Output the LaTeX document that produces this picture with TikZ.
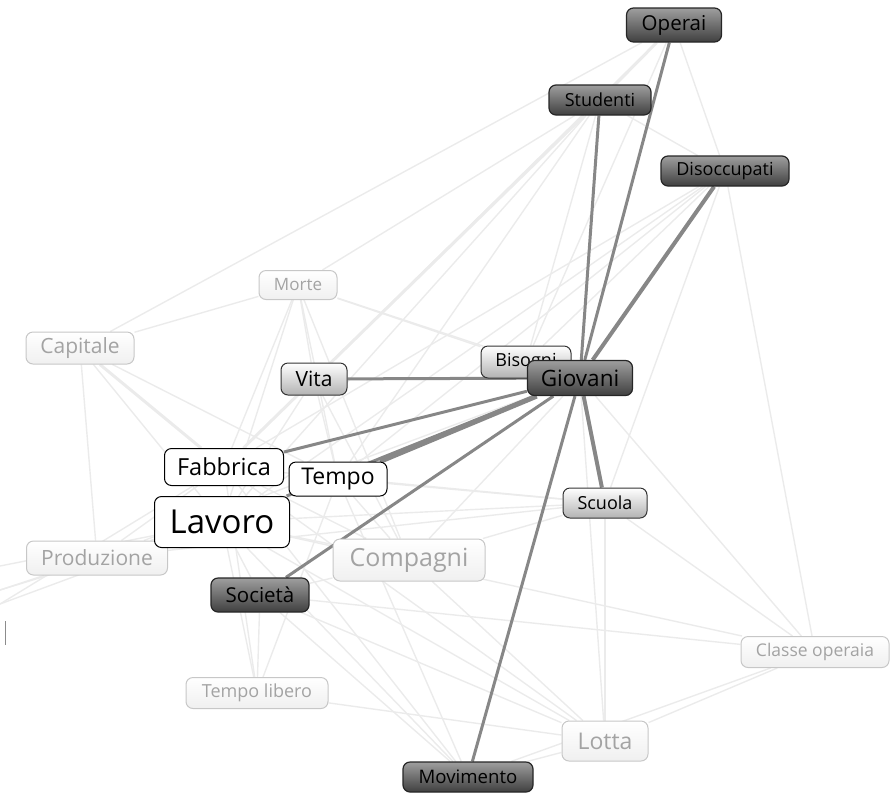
\documentclass[tikz,border=0pt]{standalone}
\usepackage{fontspec}
\setmainfont{Open Sans}
\usepackage{tikz}
\pgfdeclarelayer{faint}
\pgfdeclarelayer{links}
\pgfsetlayers{faint,links,main}

\begin{document}
\begin{tikzpicture}[x=1pt,y=-1pt,
    fs/.style={font=\fontsize{#1}{#1}\selectfont},
    word/.style={rounded corners=7pt,inner sep=0pt,line width=1pt},
    strong/.style={word,draw=black!85,line width=1.2pt,top color=black!38,bottom color=black!75,text=black},
    mid/.style={word,draw=black!80,top color=white,bottom color=black!30,text=black},
    plain/.style={word,draw=black,fill=white,text=black},
    faded/.style={word,draw=black!22,top color=white,bottom color=black!6,text=black!36},
    weak/.style={draw=black!8,line width=1.4pt},
    tie/.style={draw=black!47,line width=3pt}]
	%\draw [help lines] (0,0) grid (890,796);
	\useasboundingbox (0,0) rectangle (890,796);

	% top group
	\node [strong, fs=20.5, minimum width=95, minimum height=34] (operai) at (674,25) {Operai};
	\node [strong, fs=18, minimum width=102, minimum height=30] (studenti) at (600,100) {Studenti};
	\node [strong, fs=18, minimum width=128, minimum height=30] (disocc) at (725,171) {Disoccupati};

	% faded words
	\node [faded, fs=17, minimum width=78, minimum height=29] (morte) at (298,285) {Morte};
	\node [faded, fs=21, minimum width=108, minimum height=32] (capitale) at (80,348) {Capitale};
	\node [faded, fs=21, minimum width=141, minimum height=34] (produz) at (97,558) {Produzione};
	\node [faded, fs=25, minimum width=152, minimum height=42] (compagni) at (409,560) {Compagni};
	\node [faded, fs=18, minimum width=142, minimum height=31] (libero) at (257,693) {Tempo libero};
	\node [faded, fs=17.5, minimum width=148, minimum height=31] (classe) at (815,652) {Classe operaia};
	\node [faded, fs=23, minimum width=86, minimum height=40] (lotta) at (605,741) {Lotta};

	% middle
	\node [mid, fs=21, minimum width=66, minimum height=32] (vita) at (314,379) {Vita};
	\node [mid, fs=18, minimum width=90, minimum height=32] (bisogni) at (526,362) {Bisogni};
	\node [strong, fs=22.5, minimum width=105, minimum height=35] (giovani) at (580,378) {Giovani};
	\node [mid, fs=18, minimum width=84, minimum height=30] (scuola) at (605,503) {Scuola};

	\node [plain, fs=23.5, minimum width=119, minimum height=37] (fabbrica) at (224,467) {Fabbrica};
	\node [plain, fs=23, minimum width=98, minimum height=34] (tempo) at (338,479) {Tempo};
	\node [plain, fs=33, minimum width=135, minimum height=51] (lavoro) at (222,522) {Lavoro};

	\node [strong, fs=20.5, minimum width=98, minimum height=34] (societa) at (260,595) {Società};
	\node [strong, fs=18.6, minimum width=130, minimum height=30] (movim) at (468,777) {Movimento};

	\coordinate (w1) at (0,566);
	\coordinate (w2) at (0,590);
	\coordinate (w3) at (0,604);

	% light links
	\begin{pgfonlayer}{faint}
	\foreach \a/\b in {capitale/morte,capitale/operai,capitale/produz,capitale/fabbrica,capitale/lavoro,capitale/tempo,
	    morte/studenti,morte/vita,morte/fabbrica,morte/lavoro,morte/tempo,morte/compagni,morte/bisogni,morte/giovani,
	    vita/studenti,vita/operai,vita/fabbrica,vita/lavoro,vita/tempo,vita/compagni,
	    operai/studenti,operai/disocc,operai/bisogni,studenti/fabbrica,studenti/lavoro,studenti/tempo,studenti/disocc,studenti/bisogni,
	    disocc/classe,disocc/lavoro,disocc/fabbrica,disocc/tempo,disocc/scuola,disocc/bisogni,
	    produz/lavoro,produz/fabbrica,produz/tempo,produz/scuola,produz/giovani,
	    compagni/lotta,compagni/giovani,compagni/lavoro,compagni/fabbrica,compagni/tempo,compagni/scuola,
	    scuola/lavoro,scuola/fabbrica,scuola/tempo,scuola/lotta,scuola/classe,
	    libero/lavoro,libero/tempo,libero/societa,libero/lotta,libero/fabbrica,
	    lotta/classe,lotta/giovani,lotta/lavoro,lotta/societa,lotta/fabbrica,lotta/movim,
	    classe/giovani,classe/lavoro,classe/societa,
	    societa/movim,societa/lavoro,societa/compagni,
	    movim/lavoro,movim/fabbrica,movim/tempo,movim/classe,
	    w1/lavoro,w2/lavoro,w3/fabbrica,w2/produz,w3/tempo}
	  \draw [weak] (\a) -- (\b);
	\draw [weak, line width=3pt] (operai) -- (studenti);
	\draw [weak, line width=3pt] (capitale) -- (fabbrica);
	\draw [weak, line width=3pt] (studenti) -- (fabbrica);
	\draw [black!45, line width=1pt] (5,621) -- (5,645);
	\end{pgfonlayer}

	% strong links to Giovani
	\begin{pgfonlayer}{links}
	\foreach \b in {operai,studenti,vita,fabbrica,lavoro,societa,movim}
	  \draw [tie] (giovani) -- (\b);
	\draw [tie, line width=4pt] (giovani) -- (disocc);
	\draw [tie, line width=4pt] (giovani) -- (scuola);
	\draw [tie, line width=5pt] (giovani) -- (tempo);
	\end{pgfonlayer}
\end{tikzpicture}
\end{document}
